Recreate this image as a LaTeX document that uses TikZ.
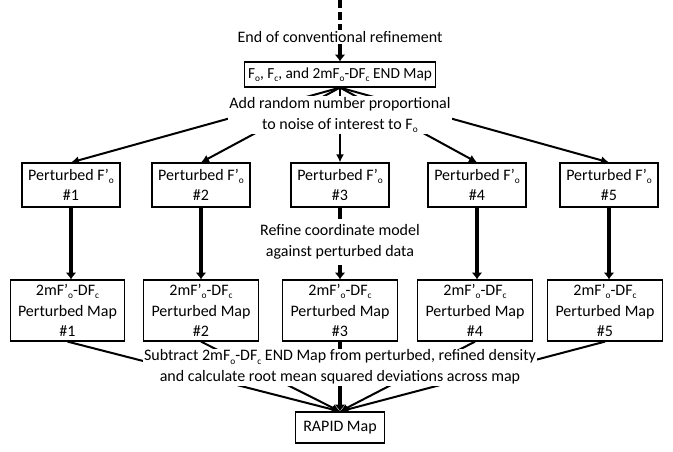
\documentclass[tikz,border=0pt]{standalone}
\usepackage{fontspec}
\setmainfont{Carlito}
\usetikzlibrary{arrows.meta, positioning}
\newcommand{\sbs}[1]{\raisebox{-0.45ex}{\fontsize{7}{7}\selectfont #1}}

\begin{document}
\begin{tikzpicture}[x=0.75pt, y=-0.75pt,
    every node/.style={font=\fontsize{12}{15.5}\selectfont, align=center},
    box/.style={draw, line width=0.9pt, inner sep=0pt},
    note/.style={fill=white, inner sep=1pt},
    fanline/.style={line width=1.5pt, -{Latex[length=6pt, width=6pt]}},
    stemline/.style={line width=3pt, -{Latex[length=5pt, width=8pt]}},
]
    \useasboundingbox (0, 0) rectangle (673, 451);

    % boxes
    \node [box, minimum width=143.5pt, minimum height=18.75pt, font=\fontsize{11.5}{15}\selectfont] (fomap) at (340, 74.5)
    {F\sbs{o}, F\sbs{c}, and 2mF\sbs{o}-DF\sbs{c} END Map};
    \foreach \i/\px/\mx in {1/71/67.5, 2/201/201, 3/340/340, 4/477/475, 5/609/605} {
        \node [box, minimum width=73.5pt, minimum height=33pt] (p\i) at (\px, 185)
        {Perturbed F’\sbs{o}\\\#\i};
        \node [box, minimum width=86pt, minimum height=45.75pt] (m\i) at (\mx, 310.5)
        {2mF’\sbs{o}-DF\sbs{c}\\Perturbed Map\\\#\i};
    }
    \node [box, minimum width=66.75pt, minimum height=23.25pt] (rapid) at (340, 427.5) {RAPID Map};

    % start
    \coordinate (start) at (340, 0);
    \node [note] (endconv) at (340, 37) {End of conventional refinement};
    \draw [line width=3pt, dash pattern=on 6pt off 3pt] (start) -- (endconv.north);
    \draw [stemline] (endconv.south) -- (fomap.north);

    % connectors
    \foreach \i in {1, ..., 5} {
        \draw [fanline] (fomap.south) -- (p\i.north);
        \draw [stemline] (p\i.south) -- (p\i.south |- m\i.north);
    }
    \foreach \i in {1, 2, 4, 5} {
        \draw [fanline] (m\i.south) -- (rapid.north);
    }
    \draw [stemline] (m3.south) -- (rapid.north);

    % labels
    \node [note] (addnoise) at (340, 115)
    {Add random number proportional\\to noise of interest to F\sbs{o}};
    \node [note, inner sep=4pt] (refine) at (340, 242)
    {Refine coordinate model\\against perturbed data};
    \node [note] (subtract) at (340, 367)
    {Subtract 2mF\sbs{o}-DF\sbs{c} END Map from perturbed, refined density\\and calculate root mean squared deviations across map};
\end{tikzpicture}
\end{document}
